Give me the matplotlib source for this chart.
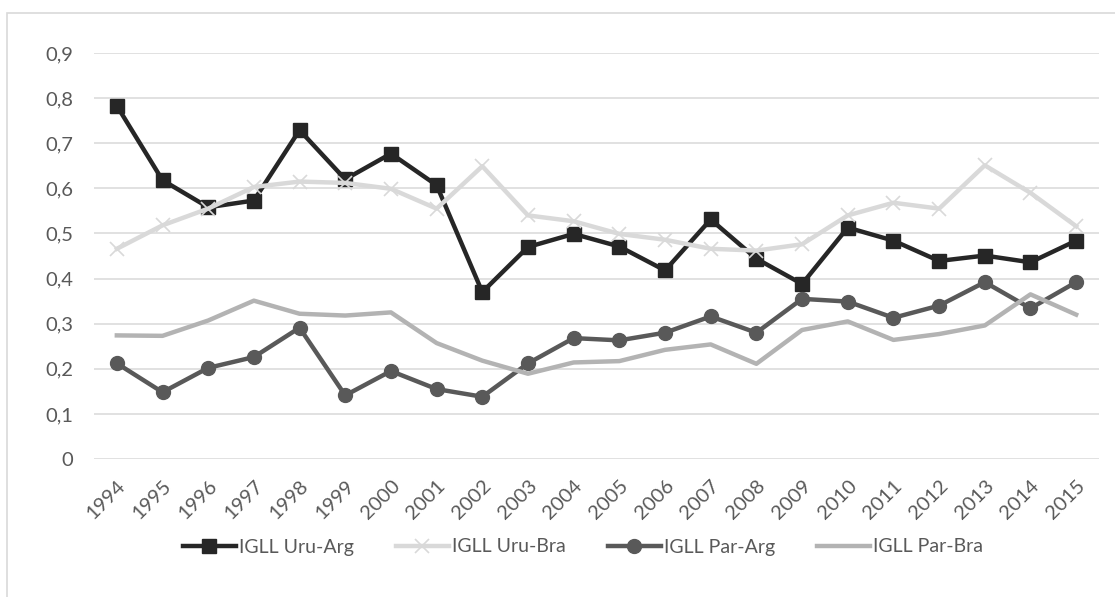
import numpy as np
import matplotlib
matplotlib.use('Agg')
from matplotlib import pyplot as plt
from matplotlib.patches import Rectangle

years = [str(y) for y in range(1994, 2016)]

uru_arg = [0.783, 0.618, 0.558, 0.573, 0.729, 0.620, 0.677, 0.607, 0.370, 0.470,
           0.499, 0.471, 0.418, 0.531, 0.444, 0.388, 0.513, 0.484, 0.439, 0.451,
           0.436, 0.484]
uru_bra = [0.466, 0.518, 0.555, 0.603, 0.615, 0.612, 0.599, 0.555, 0.649, 0.540,
           0.527, 0.499, 0.486, 0.466, 0.462, 0.476, 0.540, 0.568, 0.555, 0.651,
           0.590, 0.516]
par_arg = [0.212, 0.148, 0.202, 0.226, 0.291, 0.141, 0.195, 0.155, 0.138, 0.212,
           0.268, 0.263, 0.280, 0.316, 0.280, 0.355, 0.349, 0.313, 0.340, 0.392,
           0.334, 0.392]
par_bra = [0.274, 0.273, 0.307, 0.351, 0.322, 0.318, 0.325, 0.257, 0.218, 0.189,
           0.214, 0.217, 0.242, 0.254, 0.211, 0.286, 0.305, 0.264, 0.277, 0.296,
           0.365, 0.320]

yticks = [0, 0.1, 0.2, 0.3, 0.4, 0.5, 0.6, 0.7, 0.8, 0.9]
ytick_labels = ['0', '0,1', '0,2', '0,3', '0,4', '0,5', '0,6', '0,7', '0,8', '0,9']

plt.rcParams['font.family'] = ['Lato', 'DejaVu Sans']

W, H = 1115, 597
fig = plt.figure(figsize=(W / 100, H / 100), dpi=100)

# chart border (only top and left visible, rest cut off)
fig.patches.append(Rectangle((7 / W, -0.1), 1.2, 1 - 13 / H + 0.1,
                             transform=fig.transFigure, fill=False,
                             edgecolor='#d9d9d9', linewidth=1.2))

ax = fig.add_axes([94 / W, (H - 459) / H, (1099 - 94) / W, (459 - 53) / H])

x = np.arange(len(years))
ax.plot(x, uru_arg, color='#262626', linewidth=3.2, marker='s', markersize=10,
        label='IGLL Uru-Arg')
ax.plot(x, uru_bra, color='#d9d9d9', linewidth=3.2, marker='x', markersize=10,
        markeredgewidth=1.2, label='IGLL Uru-Bra')
ax.plot(x, par_arg, color='#595959', linewidth=3.2, marker='o', markersize=10,
        label='IGLL Par-Arg')
ax.plot(x, par_bra, color='#b3b3b3', linewidth=3.2, label='IGLL Par-Bra')

ax.set_xlim(-0.5, len(years) - 0.5)
ax.set_ylim(0, 0.9)
ax.set_yticks(yticks)
ax.set_yticklabels(ytick_labels)
ax.set_xticks(x)
ax.set_xticklabels(years, rotation=45, ha='right', rotation_mode='anchor')

ax.grid(axis='y', color='#d9d9d9', linewidth=1.1)
ax.set_axisbelow(True)
for s in ax.spines.values():
    s.set_visible(False)
ax.tick_params(axis='both', length=0, labelsize=14.5, colors='#595959')
ax.tick_params(axis='y', pad=15)
ax.tick_params(axis='x', pad=13)

leg = fig.legend(loc='center', bbox_to_anchor=(583 / W, 1 - 547 / H), ncol=4,
                 frameon=False, fontsize=14, handlelength=2.7, handletextpad=0.15,
                 columnspacing=2.2)
for t in leg.get_texts():
    t.set_color('#595959')

fig.savefig('out.png', dpi=100)
